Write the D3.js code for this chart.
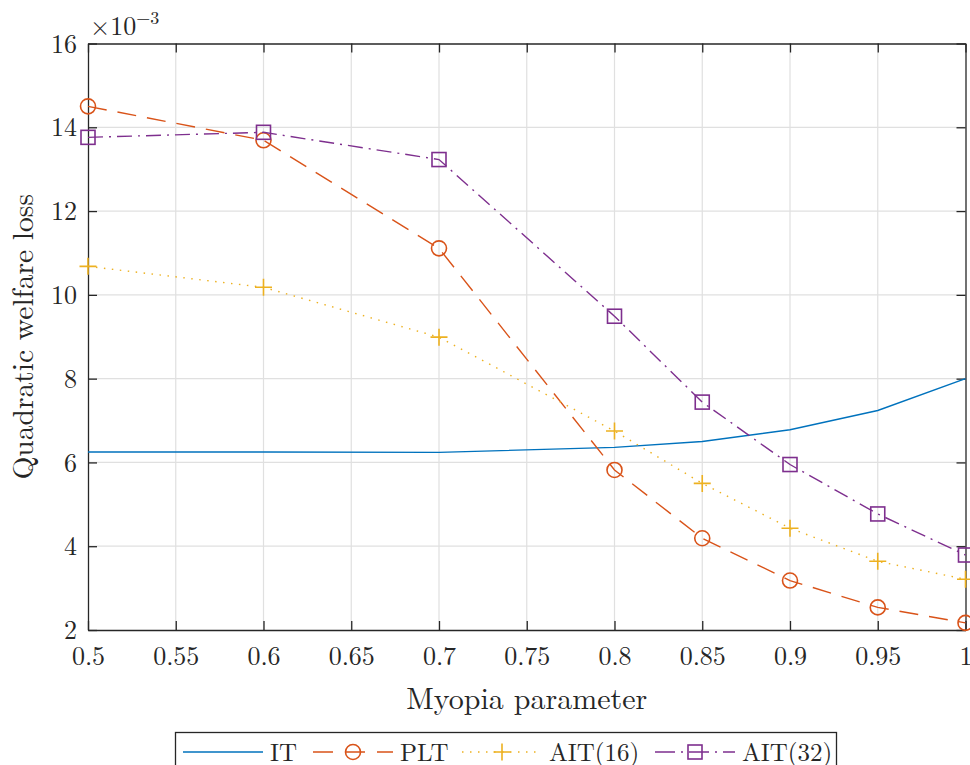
<!DOCTYPE html>
<html>
<head>
<meta charset="utf-8">
<script src="https://cdn.jsdelivr.net/npm/d3@7"></script>
<style>
  body { margin: 0; background: #fff; }
  svg text { font-family: "Latin Modern Roman", "CMU Serif", "Liberation Serif", "Times New Roman", Tinos, "DejaVu Serif", "Noto Serif", Times, serif; fill: #262626; }
</style>
</head>
<body>
<div id="chart"></div>
<script>
// myopia parameter values
var myopia = [0.5, 0.6, 0.7, 0.8, 0.85, 0.9, 0.95, 1];
// welfare loss, in units of 1e-3
var lossIT    = [6.25, 6.25, 6.24, 6.36, 6.50, 6.78, 7.24, 8.00];
var lossPLT   = [14.50, 13.69, 11.11, 5.82, 4.19, 3.18, 2.54, 2.17];
var lossAIT16 = [10.68, 10.18, 8.99, 6.75, 5.50, 4.43, 3.64, 3.21];
var lossAIT32 = [13.76, 13.88, 13.23, 9.49, 7.44, 5.95, 4.77, 3.79];
var xTicks = [0.5, 0.55, 0.6, 0.65, 0.7, 0.75, 0.8, 0.85, 0.9, 0.95, 1];
var yTicks = [2, 4, 6, 8, 10, 12, 14, 16];

var series = [
  {name: "IT",      values: lossIT,    color: "#0072BD", dash: null,       marker: "none"},
  {name: "PLT",     values: lossPLT,   color: "#D95319", dash: "19,11",    marker: "circle"},
  {name: "AIT(16)", values: lossAIT16, color: "#EDB120", dash: "1.5,6.5",  marker: "plus"},
  {name: "AIT(32)", values: lossAIT32, color: "#7E2F8E", dash: "15,6,2,6", marker: "square"}
];

var W = 970, H = 765,
    pLeft = 88, pRight = 965.5, pTop = 43.5, pBottom = 630;

var svg = d3.select("#chart").append("svg")
    .attr("width", W)
    .attr("height", H);

var x = d3.scaleLinear().domain([0.5, 1]).range([pLeft, pRight]);
var y = d3.scaleLinear().domain([2, 16]).range([pBottom, pTop]);

// grid
svg.append("g").selectAll("line")
    .data(xTicks.slice(1, -1))
  .enter().append("line")
    .attr("x1", function(d) { return x(d); })
    .attr("x2", function(d) { return x(d); })
    .attr("y1", pTop).attr("y2", pBottom)
    .style("stroke", "#e0e0e0").style("stroke-width", 1.2);

svg.append("g").selectAll("line")
    .data(yTicks.slice(1, -1))
  .enter().append("line")
    .attr("y1", function(d) { return y(d); })
    .attr("y2", function(d) { return y(d); })
    .attr("x1", pLeft).attr("x2", pRight)
    .style("stroke", "#e0e0e0").style("stroke-width", 1.2);

// axes (ticks pointing inward)
var tick = 9;
var axB = svg.append("g").attr("transform", "translate(0," + pBottom + ")")
    .call(d3.axisBottom(x).tickValues(xTicks).tickSizeInner(-tick).tickSizeOuter(0).tickPadding(14)
      .tickFormat(function(d) { return d === 1 ? "1" : d3.format("")(d); }));
var axT = svg.append("g").attr("transform", "translate(0," + pTop + ")")
    .call(d3.axisTop(x).tickValues(xTicks).tickSizeInner(-tick).tickSizeOuter(0).tickFormat(""));
var axL = svg.append("g").attr("transform", "translate(" + pLeft + ",0)")
    .call(d3.axisLeft(y).tickValues(yTicks).tickSizeInner(-tick).tickSizeOuter(0).tickPadding(11));
var axR = svg.append("g").attr("transform", "translate(" + pRight + ",0)")
    .call(d3.axisRight(y).tickValues(yTicks).tickSizeInner(-tick).tickSizeOuter(0).tickFormat(""));

[axB, axT, axL, axR].forEach(function(a) {
  a.select(".domain").style("stroke", "#262626").style("stroke-width", 1.3);
  a.selectAll(".tick line").style("stroke", "#262626").style("stroke-width", 1.3);
  a.selectAll("text").style("font-size", "26px").style("fill", "#262626");
});
svg.selectAll("g").attr("font-family", null);
axB.selectAll("text").attr("dy", "0.82em");
axL.selectAll("text").attr("dy", "0.33em");

// exponent
var ex = svg.append("text").attr("x", 90).attr("y", 35).style("font-size", "26px");
ex.append("tspan").text("\u00d710");
ex.append("tspan").attr("dy", -11).style("font-size", "18px").text("\u22123");

// axis labels
svg.append("text")
    .attr("x", (pLeft + pRight) / 2).attr("y", 709)
    .attr("text-anchor", "middle")
    .style("font-size", "30px")
    .text("Myopia parameter");

svg.append("text")
    .attr("transform", "translate(33," + ((pTop + pBottom) / 2) + ") rotate(-90)")
    .attr("text-anchor", "middle")
    .style("font-size", "29.5px")
    .text("Quadratic welfare loss");

// lines
var line = d3.line()
    .x(function(d) { return x(d[0]); })
    .y(function(d) { return y(d[1]); });

function drawMarker(g, type, color) {
  if (type === "circle") {
    g.append("circle").attr("r", 7.5).style("fill", "none").style("stroke", color).style("stroke-width", 1.6);
  } else if (type === "plus") {
    g.append("path").attr("d", "M-8.5,0H8.5M0,-8.5V8.5").style("stroke", color).style("stroke-width", 1.6);
  } else if (type === "square") {
    g.append("rect").attr("x", -7).attr("y", -7).attr("width", 14).attr("height", 14)
      .style("fill", "none").style("stroke", color).style("stroke-width", 1.6);
  }
}

var plot = svg.append("g");
series.forEach(function(s) {
  var pts = myopia.map(function(m, i) { return [m, s.values[i]]; });
  plot.append("path")
      .datum(pts)
      .attr("d", line)
      .style("fill", "none")
      .style("stroke", s.color)
      .style("stroke-width", 1.4)
      .style("stroke-dasharray", s.dash);
  pts.forEach(function(p) {
    var g = plot.append("g").attr("transform", "translate(" + x(p[0]) + "," + y(p[1]) + ")");
    drawMarker(g, s.marker, s.color);
  });
});

// legend
var legend = svg.append("g");
legend.append("rect")
    .attr("x", 175.5).attr("y", 732.5).attr("width", 661).attr("height", 40)
    .style("fill", "#fff").style("stroke", "#262626").style("stroke-width", 1.3);

var legX = [183, 313, 462, 655];
var legDash = [null, "20,12", "1.5,6.5", "20,6,2,6"];
var legY = 752;
series.forEach(function(s, i) {
  var g = legend.append("g").attr("transform", "translate(" + legX[i] + "," + legY + ")");
  g.append("line").attr("x1", 0).attr("x2", 80).attr("y1", 0).attr("y2", 0)
      .style("stroke", s.color).style("stroke-width", 1.4)
      .style("stroke-dasharray", legDash[i]);
  var m = g.append("g").attr("transform", "translate(40,0)");
  drawMarker(m, s.marker, s.color);
  g.append("text").attr("x", 87).attr("y", 0).attr("dy", "0.35em")
      .style("font-size", "25px").text(s.name);
});
</script>
</body>
</html>
